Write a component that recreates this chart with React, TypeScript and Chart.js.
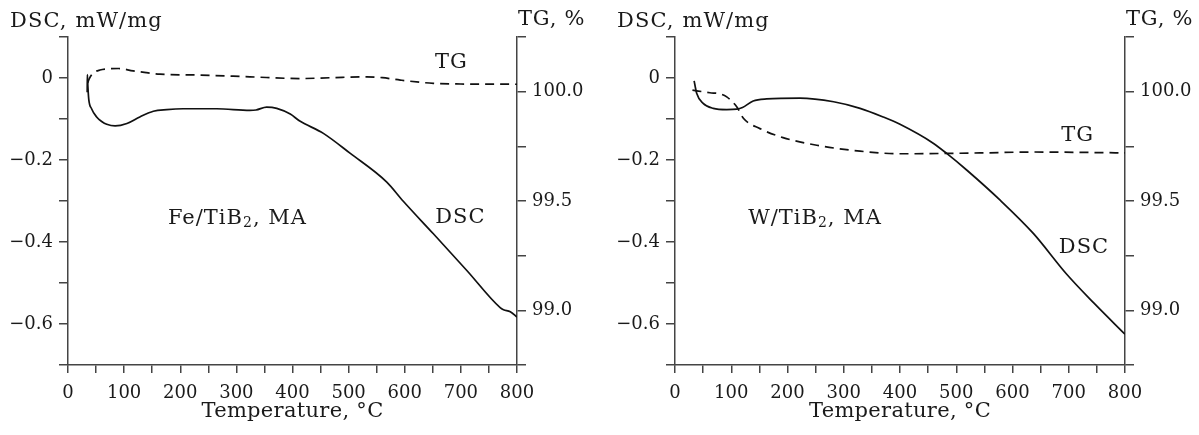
import React, { useEffect, useRef } from 'react';
import { Chart, registerables } from 'chart.js';

Chart.register(...registerables);

// ---------- data ----------
const FE_DSC_T = [34.2, 34.5, 35.5, 37, 42, 51, 60, 69, 84, 105, 128, 152, 176, 205, 265, 324, 335, 354, 372, 396, 413, 455, 503, 568, 597, 651, 711, 770, 776, 788, 800];
const FE_DSC = [-0.035, 0.008, -0.022, -0.052, -0.075, -0.095, -0.106, -0.113, -0.117, -0.111, -0.095, -0.081, -0.077, -0.075, -0.075, -0.079, -0.078, -0.071, -0.074, -0.088, -0.105, -0.135, -0.184, -0.254, -0.3, -0.38, -0.47, -0.56, -0.565, -0.57, -0.583];

const FE_TG_T = [35, 38, 45, 57, 75, 90, 116, 140, 164, 235, 324, 413, 470, 532, 560, 592, 651, 700, 800];
const FE_TG = [100.04, 100.06, 100.085, 100.099, 100.105, 100.106, 100.095, 100.087, 100.08, 100.076, 100.068, 100.06, 100.064, 100.068, 100.064, 100.053, 100.038, 100.035, 100.034];

const W_DSC_T = [34, 38.5, 50, 68, 92, 110, 120, 139, 163, 222, 282, 329, 370, 400, 459, 483, 519, 578, 637, 696, 744, 800];
const W_DSC = [-0.007, -0.037, -0.062, -0.074, -0.077, -0.076, -0.072, -0.056, -0.051, -0.049, -0.058, -0.074, -0.095, -0.113, -0.159, -0.184, -0.225, -0.298, -0.379, -0.478, -0.548, -0.625];

const W_TG_T = [31, 62, 80, 92, 110, 122, 151, 192, 252, 329, 400, 548, 637, 800];
const W_TG = [100.007, 99.995, 99.99, 99.976, 99.93, 99.877, 99.831, 99.79, 99.755, 99.728, 99.716, 99.72, 99.724, 99.72];

// tick labels
const X_LABELS = [0, 100, 200, 300, 400, 500, 600, 700, 800];
const DSC_LABELS = [0, -0.2, -0.4, -0.6];
const TG_LABELS = [100.0, 99.5, 99.0];

const X_TITLE = 'Temperature, °C';
const DSC_TITLE = 'DSC, mW/mg';
const TG_TITLE = 'TG, %';

const FONT = '"DejaVu Serif", serif';
const INK = '#1a1a1a';
const AXIS = '#444';

type Note = { parts: [string, boolean][]; t: number; v: number; align: CanvasTextAlign };

const PANELS = [
  {
    dscT: FE_DSC_T, dsc: FE_DSC, tgT: FE_TG_T, tg: FE_TG,
    left: 68, right: 83,
    notes: [
      { parts: [['TG', false]], t: 683, v: 0.037, align: 'center' },
      { parts: [['DSC', false]], t: 699, v: -0.34, align: 'center' },
      { parts: [['Fe/TiB', false], ['2', true], [', MA', false]], t: 178, v: -0.343, align: 'left' },
    ] as Note[],
  },
  {
    dscT: W_DSC_T, dsc: W_DSC, tgT: W_TG_T, tg: W_TG,
    left: 75, right: 74,
    notes: [
      { parts: [['TG', false]], t: 716, v: -0.14, align: 'center' },
      { parts: [['DSC', false]], t: 727, v: -0.414, align: 'center' },
      { parts: [['W/TiB', false], ['2', true], [', MA', false]], t: 130, v: -0.343, align: 'left' },
    ] as Note[],
  },
];

const r1 = (v: number) => Math.round(v * 100) / 100;

function fmtDsc(v: number) {
  const r = r1(v);
  if (!DSC_LABELS.some((l) => Math.abs(l - r) < 1e-6)) return '';
  if (r === 0) return '0';
  return (r < 0 ? '\u2212' : '') + Math.abs(r).toFixed(1);
}
function fmtTg(v: number) {
  const r = r1(v);
  if (!TG_LABELS.some((l) => Math.abs(l - r) < 1e-6)) return '';
  return r.toFixed(1);
}
function fmtX(v: number) {
  const r = Math.round(v);
  return X_LABELS.includes(r) ? String(r) : '';
}

function makeTextPlugin(notes: Note[]) {
  return {
    id: 'texts',
    afterDraw(chart: any) {
      const { ctx, chartArea, scales } = chart;
      ctx.save();
      ctx.fillStyle = INK;
      ctx.textBaseline = 'middle';
      ctx.font = `21px ${FONT}`;
      ctx.textAlign = 'left';
      ctx.letterSpacing = '1.1px';
      ctx.fillText(DSC_TITLE, chartArea.left - 58, chartArea.top - 15);
      ctx.letterSpacing = '0.8px';
      ctx.fillText(TG_TITLE, chartArea.right + 1, chartArea.top - 17);
      ctx.letterSpacing = '0.3px';
      ctx.textAlign = 'center';
      ctx.fillText(X_TITLE, (chartArea.left + chartArea.right) / 2, chartArea.bottom + 47);

      ctx.letterSpacing = '1px';
      for (const n of notes) {
        const px = scales.x.getPixelForValue(n.t);
        const py = scales.y.getPixelForValue(n.v);
        const widths = n.parts.map(([s, sub]) => {
          ctx.font = `${sub ? 14 : 21}px ${FONT}`;
          return ctx.measureText(s).width;
        });
        const total = widths.reduce((a, b) => a + b, 0);
        let x = n.align === 'center' ? px - total / 2 : px;
        ctx.textAlign = 'left';
        n.parts.forEach(([s, sub], i) => {
          ctx.font = `${sub ? 14 : 21}px ${FONT}`;
          ctx.fillText(s, x, sub ? py + 5 : py);
          x += widths[i];
        });
      }
      ctx.restore();
    },
  };
}

function Panel({ idx, width }: { idx: number; width: number }) {
  const ref = useRef<HTMLCanvasElement>(null);
  useEffect(() => {
    const p = PANELS[idx];
    const tickFont = { family: FONT, size: 18 };
    const chart = new Chart(ref.current!, {
      type: 'line',
      data: {
        datasets: [
          {
            label: 'DSC',
            data: p.dscT.map((t, i) => ({ x: t, y: p.dsc[i] })),
            yAxisID: 'y',
            borderColor: '#111',
            borderWidth: 1.7,
            pointRadius: 0,
            cubicInterpolationMode: 'monotone',
            fill: false,
          },
          {
            label: 'TG',
            data: p.tgT.map((t, i) => ({ x: t, y: p.tg[i] })),
            yAxisID: 'y1',
            borderColor: '#111',
            borderWidth: 1.7,
            borderDash: [9, 6],
            pointRadius: 0,
            cubicInterpolationMode: 'monotone',
            fill: false,
          },
        ],
      },
      options: {
        animation: false,
        responsive: false,
        devicePixelRatio: 1,
        layout: { padding: { top: 37, left: 0, right: 0, bottom: 0 } },
        plugins: { legend: { display: false }, tooltip: { enabled: false } },
        scales: {
          x: {
            type: 'linear',
            min: 0,
            max: 800,
            border: { color: AXIS, width: 1.5 },
            grid: { drawOnChartArea: false, drawTicks: true, tickLength: 8, color: AXIS, lineWidth: 1.5 },
            ticks: { stepSize: 50, autoSkip: false, maxRotation: 0, padding: 10, color: INK, font: tickFont, callback: (v: any) => fmtX(Number(v)) },
            afterFit: (s: any) => { s.height = 70; },
          },
          y: {
            type: 'linear',
            position: 'left',
            min: -0.7,
            max: 0.1,
            border: { color: AXIS, width: 1.5 },
            grid: { drawOnChartArea: false, drawTicks: true, tickLength: 9, color: AXIS, lineWidth: 1.5 },
            ticks: { stepSize: 0.1, autoSkip: false, padding: 6, color: INK, font: tickFont, callback: (v: any) => fmtDsc(Number(v)) },
            afterFit: (s: any) => { s.width = p.left; },
          },
          y1: {
            type: 'linear',
            position: 'right',
            min: 98.75,
            max: 100.25,
            border: { color: AXIS, width: 1.5 },
            grid: { drawOnChartArea: false, drawTicks: true, tickLength: 9, color: AXIS, lineWidth: 1.5 },
            ticks: { stepSize: 0.25, autoSkip: false, padding: 6, color: INK, font: tickFont, callback: (v: any) => fmtTg(Number(v)) },
            afterFit: (s: any) => { s.width = p.right; },
          },
        },
      } as any,
      plugins: [makeTextPlugin(p.notes)],
    });
    return () => chart.destroy();
  }, [idx]);
  return <canvas ref={ref} width={width} height={435} style={{ display: 'block', width, height: 435 }} />;
}

export default function App() {
  return (
    <div style={{ position: 'absolute', left: 0, top: 0, width: 1199, height: 435, background: '#fff', display: 'flex' }}>
      <Panel idx={0} width={600} />
      <Panel idx={1} width={599} />
    </div>
  );
}
